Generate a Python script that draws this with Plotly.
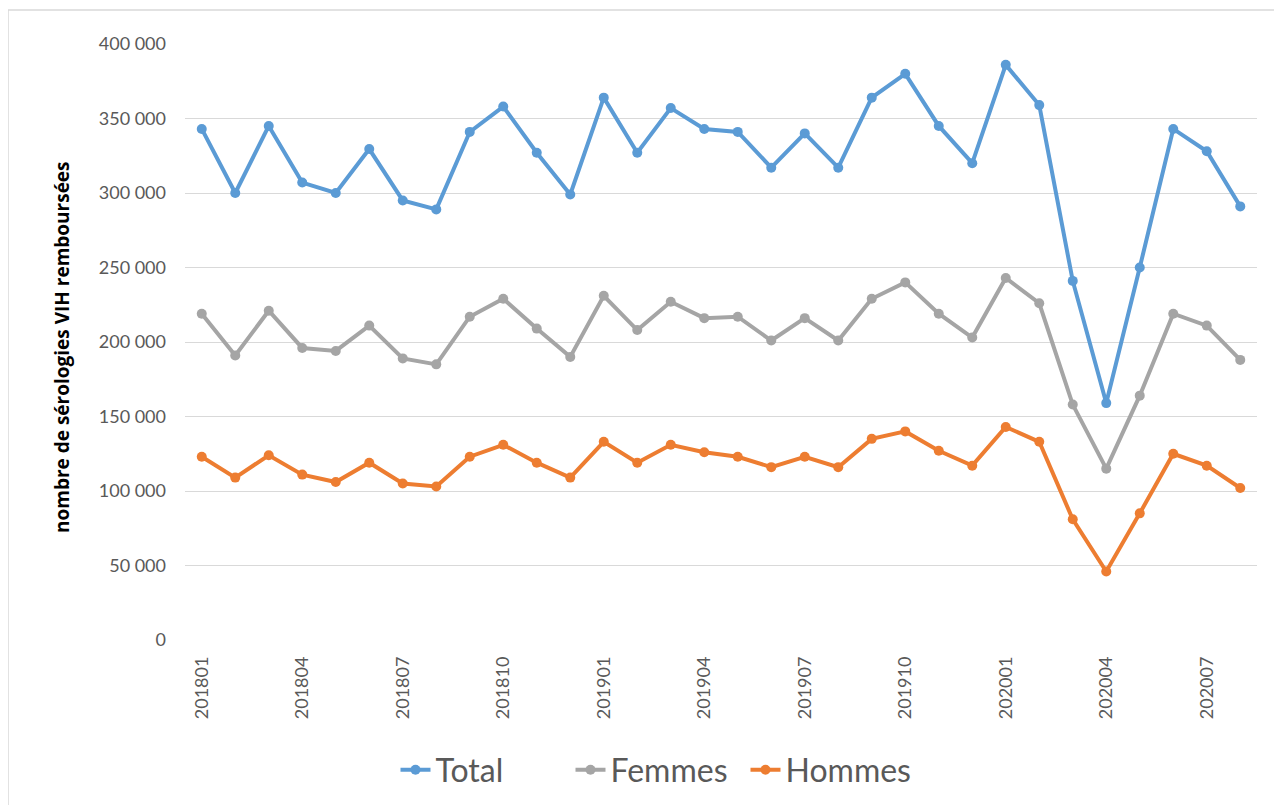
import plotly.graph_objects as go

months = ["201801","201802","201803","201804","201805","201806","201807","201808",
          "201809","201810","201811","201812","201901","201902","201903","201904",
          "201905","201906","201907","201908","201909","201910","201911","201912",
          "202001","202002","202003","202004","202005","202006","202007","202008"]

total = [343000, 300000, 345000, 307000, 300000, 329500, 295000, 289000,
         341000, 358000, 327000, 299000, 364000, 327000, 357000, 343000,
         341000, 317000, 340000, 317000, 364000, 380000, 345000, 320000,
         386000, 359000, 241000, 159000, 250000, 343000, 328000, 291000]

femmes = [219000, 191000, 221000, 196000, 194000, 211000, 189000, 185000,
          217000, 229000, 209000, 190000, 231000, 208000, 227000, 216000,
          217000, 201000, 216000, 201000, 229000, 240000, 219000, 203000,
          243000, 226000, 158000, 115000, 164000, 219000, 211000, 188000]

hommes = [123000, 109000, 124000, 111000, 106000, 119000, 105000, 103000,
          123000, 131000, 119000, 109000, 133000, 119000, 131000, 126000,
          123000, 116000, 123000, 116000, 135000, 140000, 127000, 117000,
          143000, 133000, 81000, 46000, 85000, 125000, 117000, 102000]

series_names = ["Total", "Femmes", "Hommes"]
colors = ["#5B9BD5", "#A5A5A5", "#ED7D31"]

tick_labels = months[::3]
y_ticks = [0, 50000, 100000, 150000, 200000, 250000, 300000, 350000, 400000]
y_title = "nombre de sérologies VIH remboursées"

fig = go.Figure()
for name, vals, col in zip(series_names, [total, femmes, hommes], colors):
    fig.add_trace(go.Scatter(
        x=months, y=vals, name=name, mode="lines+markers",
        line=dict(color=col, width=4),
        marker=dict(color=col, size=10),
    ))

PL, PT, PW, PH = 185, 44, 1072, 596  # plot area in screenshot coords

fig.update_layout(
    width=1282, height=805,
    paper_bgcolor="white", plot_bgcolor="white",
    margin=dict(l=177, r=1282 - 177 - PW, t=36, b=805 - 36 - PH),
    separators=". ",
    font=dict(family="Lato, Open Sans, sans-serif", color="#595959"),
    showlegend=True,
    legend=dict(orientation="h", x=(658 - PL) / PW, xanchor="center",
                y=(PT + PH - 770) / PH, yanchor="middle",
                font=dict(size=32, color="#595959"), traceorder="normal",
                entrywidth=130, entrywidthmode="pixels"),
    xaxis=dict(type="category", range=[-0.5, 31.5], tickmode="array",
               tickvals=tick_labels, ticktext=tick_labels, tickangle=-90,
               tickfont=dict(size=18, color="#595959"), showgrid=False,
               showline=False, ticks="", zeroline=False, ticklabelstandoff=12),
    yaxis=dict(range=[0, 400000], tickvals=y_ticks, tickformat=",d",
               tickfont=dict(size=18, color="#595959"),
               gridcolor="#D9D9D9", gridwidth=1.3, zeroline=False, showline=False,
               ticks="", ticklabelstandoff=18),
    annotations=[dict(text="<b>" + y_title + "</b>", textangle=-90,
                      xref="paper", yref="paper",
                      x=(62 - PL) / PW, y=(PT + PH - 347) / PH,
                      xanchor="center", yanchor="middle", showarrow=False,
                      font=dict(size=19, color="#000000", family="Open Sans, sans-serif"))],
    shapes=[dict(type="rect", xref="paper", yref="paper",
                 x0=(8 - PL) / PW, x1=(1300 - PL) / PW,
                 y0=(PT + PH - 820) / PH, y1=(PT + PH - 10) / PH,
                 line=dict(color="#D9D9D9", width=1.5), fillcolor="rgba(0,0,0,0)",
                 layer="below")],
)

fig.write_html("out.html")
